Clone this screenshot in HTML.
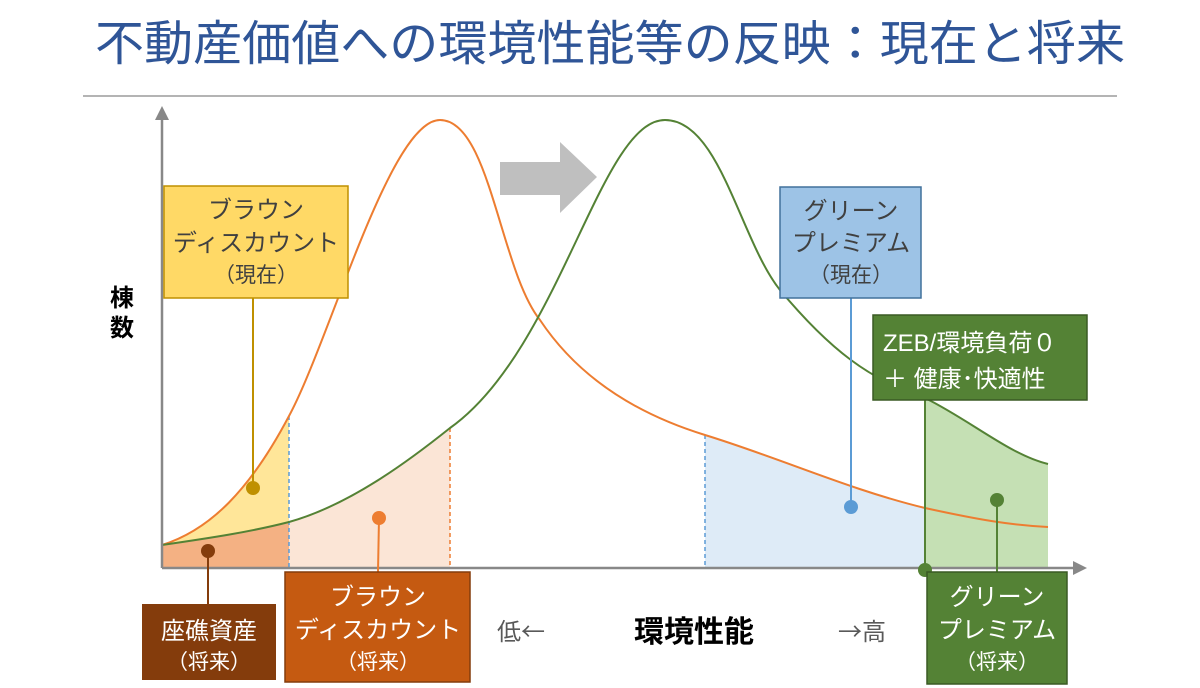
<!DOCTYPE html>
<html><head><meta charset="utf-8"><style>
body{margin:0;background:#fff;}
svg{display:block;font-family:"Liberation Sans","Noto Sans CJK JP",sans-serif;}
</style></head><body>
<svg width="1200" height="688" viewBox="0 0 1200 688" xmlns="http://www.w3.org/2000/svg">
<text x="610" y="60" text-anchor="middle" font-size="48" fill="#2f5597" textLength="1030" lengthAdjust="spacingAndGlyphs">不動産価値への環境性能等の反映：現在と将来</text>
<line x1="83" y1="96" x2="1117" y2="96" stroke="#888" stroke-width="1.2"/>
<path d="M162,545 C210,530 250,490 289,416 L289,568 L162,568Z" fill="#ffe699"/>
<path d="M162,545 C210,538 250,532 289,522 L289,568 L162,568Z" fill="#f4b183"/>
<path d="M289,522 C350,505 410,460 450,428 L450,568 L289,568Z" fill="#fbe5d6"/>
<path d="M705,435 C780,458 850,490 925,508 L925,568 L705,568Z" fill="#deebf7"/>
<path d="M925,398 C970,420 1010,455 1048,464 L1048,568 L925,568Z" fill="#c5e0b4"/>
<line x1="289" y1="416" x2="289" y2="568" stroke="#5b9bd5" stroke-width="1.5" stroke-dasharray="4,3"/>
<line x1="450" y1="428" x2="450" y2="568" stroke="#ed7d31" stroke-width="1.5" stroke-dasharray="4,3"/>
<line x1="705" y1="435" x2="705" y2="568" stroke="#5b9bd5" stroke-width="1.5" stroke-dasharray="4,3"/>
<path d="M162,545 C210,530 250,490 289,416 C330,340 390,120 440,120 C490,120 500,270 540,320 C580,380 640,415 705,435 C780,458 850,490 925,508 C980,520 1010,525 1048,527" fill="none" stroke="#ed7d31" stroke-width="2"/>
<path d="M162,545 C210,538 250,532 289,522 C350,505 410,460 450,428 C560,350 600,120 665,120 C720,120 740,240 780,290 C830,350 870,380 925,398 C970,420 1010,455 1048,464" fill="none" stroke="#548235" stroke-width="2"/>
<line x1="162" y1="568" x2="162" y2="118" stroke="#888" stroke-width="2.5"/>
<polygon points="155,120 169,120 162,106" fill="#888"/>
<line x1="162" y1="568" x2="1075" y2="568" stroke="#888" stroke-width="2.5"/>
<polygon points="1073,561 1073,575 1087,568" fill="#888"/>
<text x="122" y="306" text-anchor="middle" font-size="24" font-weight="bold" fill="#000">棟</text>
<text x="122" y="336" text-anchor="middle" font-size="24" font-weight="bold" fill="#000">数</text>
<polygon points="500,162 560,162 560,142 597,177 560,213 560,195 500,195" fill="#bfbfbf"/>
<line x1="253" y1="298" x2="253" y2="488" stroke="#bf9000" stroke-width="2"/><circle cx="253" cy="488" r="7" fill="#bf9000"/>
<line x1="851" y1="298" x2="851" y2="507" stroke="#5b9bd5" stroke-width="2"/><circle cx="851" cy="507" r="7" fill="#5b9bd5"/>
<line x1="208" y1="551" x2="208" y2="604" stroke="#843c0c" stroke-width="2"/><circle cx="208" cy="551" r="7" fill="#843c0c"/>
<line x1="379" y1="518" x2="378" y2="572" stroke="#ed7d31" stroke-width="2"/><circle cx="379" cy="518" r="7" fill="#ed7d31"/>
<line x1="925" y1="400" x2="925" y2="570" stroke="#548235" stroke-width="2"/><circle cx="925" cy="570" r="7" fill="#548235"/>
<line x1="997" y1="500" x2="997" y2="572" stroke="#548235" stroke-width="2"/><circle cx="997" cy="500" r="7" fill="#548235"/>
<rect x="164" y="186" width="184" height="112" fill="#ffd966" stroke="#bf9000" stroke-width="1.5"/>
<g font-size="24" text-anchor="middle" fill="#404040"><text x="256" y="218">ブラウン</text><text x="256" y="251">ディスカウント</text><text x="256" y="282" font-size="21">（現在）</text></g>
<rect x="780" y="187" width="141" height="111" fill="#9dc3e6" stroke="#41719c" stroke-width="1.5"/>
<g font-size="24" text-anchor="middle" fill="#404040"><text x="851" y="219">グリーン</text><text x="851" y="251">プレミアム</text><text x="851" y="282" font-size="21">（現在）</text></g>
<rect x="873" y="315" width="214" height="85" fill="#548235" stroke="#3a5a24" stroke-width="1.5"/>
<g font-size="24" fill="#fff"><text x="883" y="351">ZEB/環境負荷０</text><text x="883" y="387">＋  健康･快適性</text></g>
<rect x="142" y="604" width="134" height="76" fill="#843c0c"/>
<g font-size="24" text-anchor="middle" fill="#fff"><text x="209" y="639">座礁資産</text><text x="209" y="669" font-size="21">（将来）</text></g>
<rect x="285" y="572" width="185" height="110" fill="#c55a11" stroke="#843c0c" stroke-width="1.5"/>
<g font-size="24" text-anchor="middle" fill="#fff"><text x="378" y="605">ブラウン</text><text x="378" y="638">ディスカウント</text><text x="378" y="669" font-size="21">（将来）</text></g>
<rect x="927" y="572" width="140" height="112" fill="#548235" stroke="#3a5a24" stroke-width="1.5"/>
<g font-size="24" text-anchor="middle" fill="#fff"><text x="997" y="605">グリーン</text><text x="997" y="638">プレミアム</text><text x="997" y="669" font-size="21">（将来）</text></g>
<text x="497" y="640" font-size="24" fill="#595959" font-family="Noto Sans CJK JP, sans-serif">低←</text>
<text x="694" y="642" text-anchor="middle" font-size="30" font-weight="bold" fill="#000">環境性能</text>
<text x="838" y="640" font-size="24" fill="#595959" font-family="Noto Sans CJK JP, sans-serif">→高</text>
</svg>
</body></html>
